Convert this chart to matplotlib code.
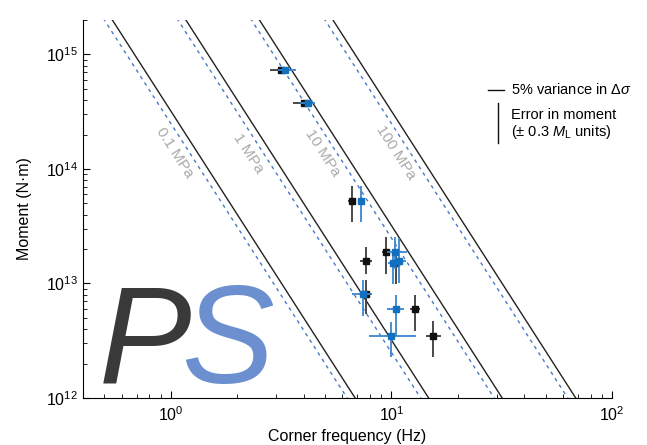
import numpy as np
import matplotlib.pyplot as plt

plt.rcParams['font.family'] = ['Liberation Sans', 'DejaVu Sans']
plt.rcParams['mathtext.fontset'] = 'custom'
plt.rcParams['mathtext.rm'] = 'Liberation Sans'
plt.rcParams['mathtext.it'] = 'Liberation Sans:italic'

# %% data (one entry per event: P waves in black, S waves in blue)
moment = [7.26e14, 3.75e14, 5.27e13, 1.90e13, 1.585e13, 1.50e13, 8.1e12, 5.94e12, 3.46e12]
mom_p_lo = [7.26e14, 3.75e14, 3.46e13, 1.22e13, 1.20e13, 9.8e12, 5.37e12, 3.83e12, 2.28e12]
mom_p_hi = [7.26e14, 3.75e14, 7.10e13, 2.56e13, 2.10e13, 1.98e13, 1.08e13, 8.0e12, 4.68e12]
mom_s_lo = [7.26e14, 3.75e14, 3.46e13, 1.33e13, 1.02e13, 9.8e12, 5.17e12, 3.46e12, 2.28e12]
mom_s_hi = [7.26e14, 3.75e14, 7.10e13, 2.56e13, 2.51e13, 1.98e13, 1.08e13, 8.0e12, 4.58e12]

fc_p = [3.15, 4.01, 6.62, 9.44, 7.66, 10.48, 7.66, 12.78, 15.4]
fc_p_lo = [2.81, 3.57, 6.35, 9.05, 7.19, 10.05, 7.35, 12.13, 14.33]
fc_p_hi = [3.54, 4.23, 6.90, 9.85, 8.16, 10.93, 8.16, 13.46, 16.76]
fc_s = [3.30, 4.18, 7.27, 10.4, 10.81, 10.16, 7.43, 10.48, 9.95]
fc_s_lo = [3.06, 3.85, 7.05, 9.54, 10.37, 9.64, 6.62, 9.54, 7.91]
fc_s_hi = [3.69, 4.50, 7.50, 11.75, 11.63, 10.70, 8.16, 11.39, 12.91]

stress_drops = [0.1, 1, 10, 100]  # MPa
stress_labels = ['0.1 MPa', '1 MPa', '10 MPa', '100 MPa']


def brune_moment(fc, dsigma_mpa, kbeta=1120.0):
    # M0 = 16/7 * dsigma * (k beta / fc)^3
    return 16.0 / 7.0 * dsigma_mpa * 1e6 * (kbeta / np.asarray(fc)) ** 3


def brune_fc(m0, dsigma_mpa, kbeta=1120.0):
    return kbeta * (16.0 / 7.0 * dsigma_mpa * 1e6 / m0) ** (1.0 / 3.0)


# %%
fig = plt.figure(figsize=(6.47, 4.45), dpi=100)
ax = fig.add_axes([83 / 647, 47 / 445, 529 / 647, 378 / 445])
ax.set_xscale('log')
ax.set_yscale('log')
ax.set_xlim(0.4, 100)
ax.set_ylim(1e12, 2e15)

f_line = np.array([0.3, 150.0])
for ds in stress_drops:
    ax.plot(f_line, brune_moment(f_line, ds), color='#222222', lw=1.0, zorder=2)
    ax.plot(f_line * 0.92, brune_moment(f_line, ds), color='#4a78c8', lw=1.0,
            dashes=(2.5, 3), zorder=2)

# rotated labels along the lines
p1 = ax.transData.transform((1.0, brune_moment(1.0, 1)))
p2 = ax.transData.transform((10.0, brune_moment(10.0, 1)))
angle = np.degrees(np.arctan2(p2[1] - p1[1], p2[0] - p1[0]))
m_lab = 10 ** 14.14
for ds, lab in zip(stress_drops, stress_labels):
    ax.text(brune_fc(m_lab, ds) * 0.79, m_lab, lab, color='#aaaaaa', fontsize=11,
            rotation=angle, ha='center', va='center', rotation_mode='anchor')

# big P / S letters
ax.text(0.030, 0.040, 'P', transform=ax.transAxes, fontsize=100, style='italic',
        color='#3a3a3a', ha='left', va='baseline', zorder=1)
ax.text(0.186, 0.040, 'S', transform=ax.transAxes, fontsize=100, style='italic',
        color='#6b8fcf', ha='left', va='baseline', zorder=1)

# data
m = np.array(moment)
fp = np.array(fc_p)
fs = np.array(fc_s)
ax.errorbar(fp, m,
            xerr=[fp - np.array(fc_p_lo), np.array(fc_p_hi) - fp],
            yerr=[m - np.array(mom_p_lo), np.array(mom_p_hi) - m],
            fmt='s', ms=5, color='#111111', ecolor='#3a3a3a', elinewidth=1.3,
            capsize=0, zorder=4)
ax.errorbar(fs, m,
            xerr=[fs - np.array(fc_s_lo), np.array(fc_s_hi) - fs],
            yerr=[m - np.array(mom_s_lo), np.array(mom_s_hi) - m],
            fmt='s', ms=5, color='#1270c0', ecolor='#3a86cc', elinewidth=1.3,
            capsize=0, zorder=5)

# legend-like annotations
ax.plot([0.766, 0.795], [0.816, 0.816], transform=ax.transAxes, color='#111111', lw=1.0)
ax.text(0.809, 0.816, r'5% variance in $\Delta\sigma$', transform=ax.transAxes,
        fontsize=10.5, va='center', ha='left')
ax.plot([0.784, 0.784], [0.675, 0.780], transform=ax.transAxes, color='#111111', lw=1.0)
ax.text(0.809, 0.749, 'Error in moment', transform=ax.transAxes,
        fontsize=10.5, va='center', ha='left')
ax.text(0.809, 0.704, r'(± 0.3 $M_\mathrm{L}$ units)', transform=ax.transAxes,
        fontsize=10.5, va='center', ha='left')

ax.spines['top'].set_visible(False)
ax.spines['right'].set_visible(False)
ax.tick_params(which='both', direction='in', labelsize=11.5)
ax.tick_params(which='major', length=5)
ax.tick_params(which='minor', length=3)
ax.tick_params(axis='x', pad=5)
ax.set_xlabel('Corner frequency (Hz)', fontsize=11.5, labelpad=4)
ax.set_ylabel('Moment (N·m)', fontsize=11.5, labelpad=10)

fig.savefig('out.png', dpi=100)
